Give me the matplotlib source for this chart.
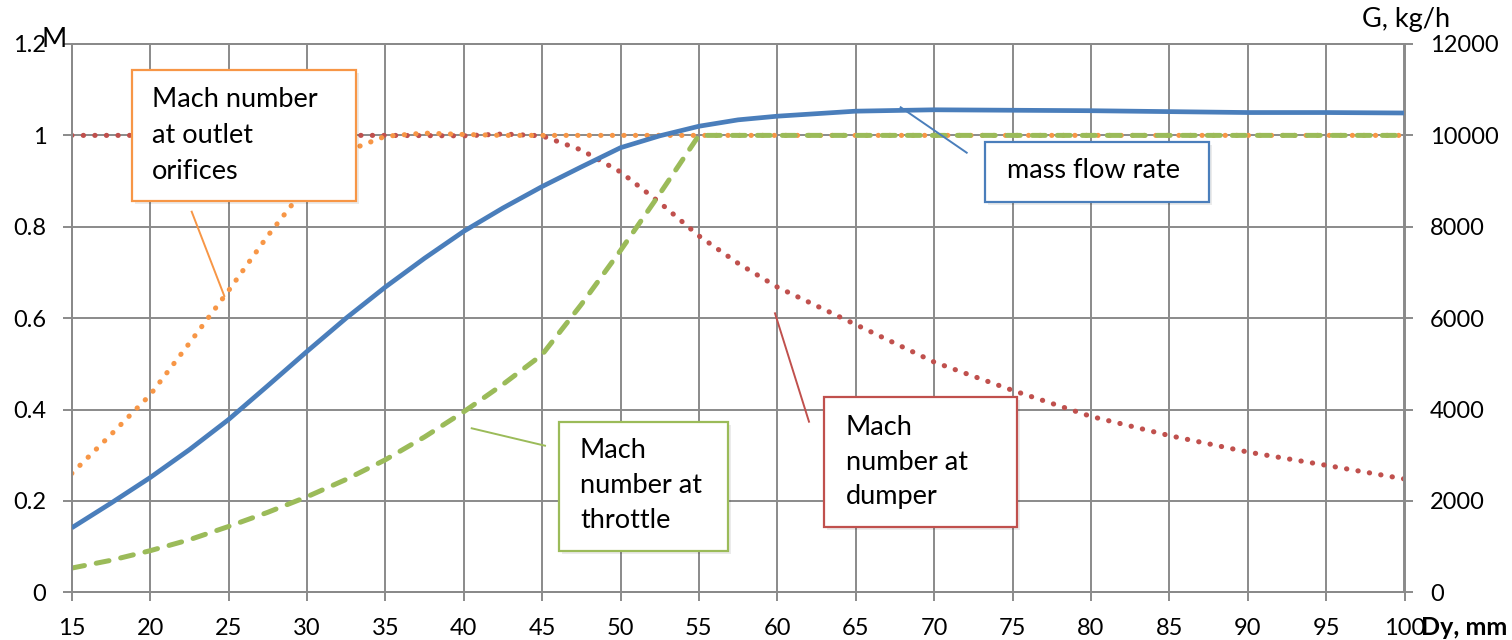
import matplotlib
matplotlib.use("Agg")
import matplotlib.pyplot as plt
from matplotlib.patches import Rectangle
from matplotlib.lines import Line2D

plt.rcParams['font.family'] = ['Lato', 'DejaVu Sans']

# ---- data -------------------------------------------------------------
dy_ticks = [15, 20, 25, 30, 35, 40, 45, 50, 55, 60, 65, 70, 75, 80, 85, 90, 95, 100]
m_ticks = [0, 0.2, 0.4, 0.6, 0.8, 1, 1.2]
m_tick_labels = ["0", "0.2", "0.4", "0.6", "0.8", "1", "1.2"]
g_ticks = [0, 2000, 4000, 6000, 8000, 10000, 12000]

# Mach number at outlet orifices
dy_outlet = [15, 17.5, 20, 22.5, 25, 27.5, 30, 32.5, 35, 37.5, 40, 42.5, 45,
             50, 55, 60, 65, 70, 75, 80, 85, 90, 95, 100]
m_outlet = [0.26, 0.345, 0.432, 0.545, 0.66, 0.78, 0.89, 0.965, 0.998, 1.005, 1.002, 1.0, 1.0,
            1.0, 1.0, 1.0, 1.0, 1.0, 1.0, 1.0, 1.0, 1.0, 1.0, 1.0]

# Mach number at dumper
dy_dumper = [15, 20, 25, 30, 35, 40, 42.5, 45, 47.5, 50, 52.5, 55, 57.5, 60,
             65, 70, 75, 80, 85, 90, 95, 100]
m_dumper = [1.0, 1.0, 1.0, 1.0, 1.0, 0.999, 1.003, 0.999, 0.968, 0.92, 0.853, 0.78, 0.72, 0.668,
            0.586, 0.504, 0.442, 0.385, 0.343, 0.307, 0.278, 0.248]

# Mach number at throttle
dy_throttle = [15, 17.5, 20, 22.5, 25, 27.5, 30, 32.5, 35, 37.5, 40, 42.5, 45, 47.5, 50,
               52.5, 55, 60, 65, 70, 75, 80, 85, 90, 95, 100]
m_throttle = [0.053, 0.07, 0.091, 0.115, 0.144, 0.175, 0.209, 0.247, 0.29, 0.34, 0.395, 0.455,
              0.52, 0.63, 0.748, 0.872, 1.0, 1.0, 1.0, 1.0, 1.0, 1.0, 1.0, 1.0, 1.0, 1.0]

# mass flow rate, kg/h
dy_flow = [15, 17.5, 20, 22.5, 25, 27.5, 30, 32.5, 35, 37.5, 40, 42.5, 45, 47.5, 50, 52.5,
           55, 57.5, 60, 65, 70, 75, 80, 85, 90, 95, 100]
g_flow = [1410, 1950, 2510, 3120, 3780, 4520, 5270, 6000, 6680, 7310, 7900, 8410, 8880, 9310,
          9730, 9990, 10200, 10340, 10420, 10530, 10560, 10550, 10540, 10520, 10500, 10500, 10490]

# ---- styling ----------------------------------------------------------
BLUE = "#4A7EBB"
RED = "#C0504D"
GREEN = "#9BBB59"
ORANGE = "#F79646"
GRID = "#8A8A8A"
FS_TICK = 17
FS_TEXT = 19.5

W, H, DPI = 1512, 640, 100
fig = plt.figure(figsize=(W / DPI, H / DPI), dpi=DPI)


def fx(px):
    return px / W


def fy(py):
    return 1 - py / H


ax = fig.add_axes([fx(71.7), fy(592.3), fx(1404.5 - 71.7), (592.3 - 44) / H])
ax2 = ax.twinx()

ax.set_xlim(15, 100)
ax.set_ylim(0, 1.2)
ax2.set_ylim(0, 12000)
ax.set_xticks(dy_ticks)
ax.set_yticks(m_ticks)
ax.set_yticklabels(m_tick_labels)
ax2.set_yticks(g_ticks)

ax.grid(True, color=GRID, linewidth=1.4)
ax.set_axisbelow(True)
for a in (ax, ax2):
    for s in a.spines.values():
        s.set_color(GRID)
        s.set_linewidth(1.4)
    a.tick_params(axis='both', length=6.3, width=1.4, color=GRID, pad=12,
                  labelsize=FS_TICK, labelcolor="black")

dot_style = dict(linewidth=3.7, linestyle=(0, (0.05, 2.2)), dash_capstyle='round')
ax.plot(dy_dumper, m_dumper, color=RED, **dot_style, zorder=3)
ax.plot(dy_outlet, m_outlet, color=ORANGE, **dot_style, zorder=4)
ax.plot(dy_throttle, m_throttle, color=GREEN, linewidth=3.6,
        linestyle=(0, (2.6, 2.4)), dash_capstyle='round', zorder=5)
ax2.plot(dy_flow, g_flow, color=BLUE, linewidth=3.4, solid_capstyle='butt',
         solid_joinstyle='round', zorder=6)

# axis titles
fig.text(fx(41), fy(47), "M", fontsize=FS_TEXT, va='baseline', ha='left')
fig.text(fx(1362), fy(27.5), "G, kg/h", fontsize=FS_TEXT, va='baseline', ha='left')
fig.text(fx(1421), fy(635), "Dy, mm", fontsize=18, fontweight='bold', va='baseline', ha='left')


# callouts
def callout(box, lines, text_x, first_baseline, pitch, leader, color):
    x0, y0, x1, y1 = box
    shadow = Rectangle((fx(x0 + 3), fy(y1 + 3)), fx(x1 - x0), (y1 - y0) / H,
                       transform=fig.transFigure, facecolor="#000000", alpha=0.08,
                       edgecolor='none', zorder=9)
    rect = Rectangle((fx(x0), fy(y1)), fx(x1 - x0), (y1 - y0) / H,
                     transform=fig.transFigure, facecolor="white", edgecolor=color,
                     linewidth=1.6, zorder=10)
    fig.add_artist(shadow)
    fig.add_artist(rect)
    for i, t in enumerate(lines):
        fig.text(fx(text_x), fy(first_baseline + i * pitch), t, fontsize=FS_TEXT,
                 va='baseline', ha='left', zorder=11)
    (lx0, ly0), (lx1, ly1) = leader
    fig.add_artist(Line2D([fx(lx0), fx(lx1)], [fy(ly0), fy(ly1)], color=color,
                          linewidth=1.4, transform=fig.transFigure, zorder=8))


callout((132, 70, 356, 201), ["Mach number", "at outlet", "orifices"],
        151.7, 107.3, 35.7, ((191.7, 211.7), (224.3, 296)), ORANGE)
callout((985, 141.7, 1209.3, 201.7), ["mass flow rate"],
        1006.7, 178.3, 35, ((900.7, 107.3), (966.7, 152.7)), BLUE)
callout((559.3, 421.7, 728.3, 550.7), ["Mach", "number at", "throttle"],
        580, 458.3, 35, ((471.7, 428.3), (545, 445.7)), GREEN)
callout((824.3, 397.3, 1017.3, 526.7), ["Mach", "number at", "dumper"],
        846, 435, 34.5, ((775, 313.3), (809, 421.7)), RED)

fig.savefig("out.png", dpi=DPI)
